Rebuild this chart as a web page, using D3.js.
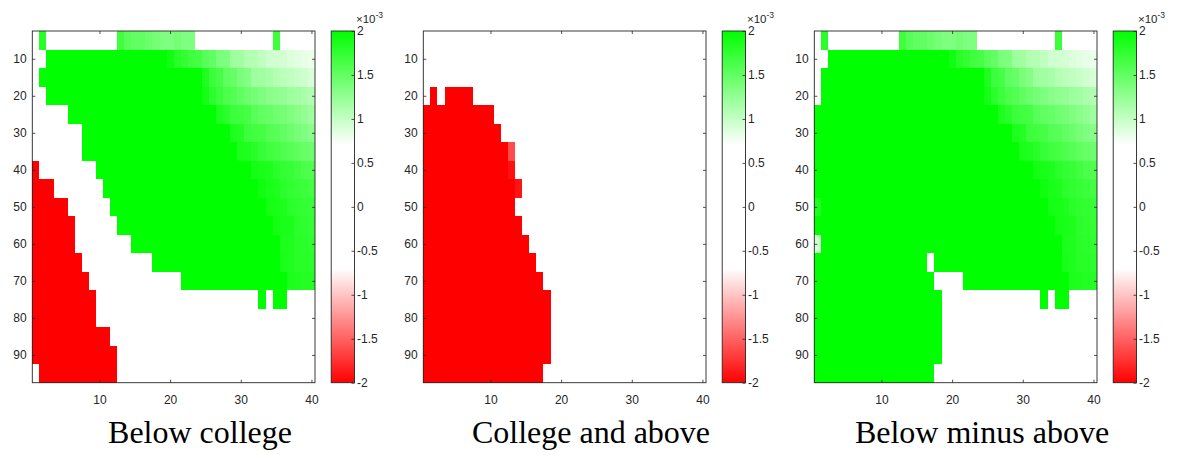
<!DOCTYPE html>
<html><head><meta charset="utf-8">
<script src="https://cdn.jsdelivr.net/npm/d3@7"></script>
<style>body{margin:0;background:#fff}</style>
</head><body><svg id="chart" width="1178" height="455"></svg>
<script>
// ---- data (values in units of 1e-3) ----
const cols = [1,2,3,4,5,6,7,8,9,10,11,12,13,14,15,16,17,18,19,20,21,22,23,24,25,26,27,28,29,30,31,32,33,34,35,36,37,38,39,40];
const yCenters = [5,10,15,20,25,30,35,40,45,50,55,60,65,70,75,80,85,90,95];
const xTicks = [10,20,30,40];
const yTicks = [10,20,30,40,50,60,70,80,90];
const cbTicks = [-2,-1.5,-1,-0.5,0,0.5,1,1.5,2];
const cbTickLabels = ["-2","-1.5","-1","-0.5","0","0.5","1","1.5","2"];
const titles = ["Below college","College and above","Below minus above"];

const belowCollege = [
[0,1.8,0,0,0,0,0,0,0,0, 0,0,1.68,1.55,1.5,1.5,1.45,1.4,1.35,1.35, 1.4,1.35,1.35,0,0,0,0,0,0,0, 0,0,0,0,1.7,0,0,0,0,0],
[0,0,2,2,2,2,2,2,2,2, 2,2,2,2,2,2,2,2,2,1.92, 1.8,1.75,1.68,1.65,1.55,1.5,1.38,1.35,1.2,1.18, 1.1,1.08,1.02,0.95,0.93,0.92,0.88,0.85,0.82,0.8],
[0,2,2,2,2,2,2,2,2,2, 2,2,2,2,2,2,2,2,2,2, 2,2,2,2,1.84,1.7,1.65,1.52,1.48,1.38, 1.33,1.2,1.18,1.15,1.08,1.05,1.02,0.98,0.95,0.9],
[0,0,2,2,2,2,2,2,2,2, 2,2,2,2,2,2,2,2,2,2, 2,2,2,2,1.9,1.78,1.7,1.62,1.58,1.52, 1.45,1.4,1.35,1.3,1.27,1.25,1.2,1.18,1.13,1.1],
[0,0,0,0,0,2,2,2,2,2, 2,2,2,2,2,2,2,2,2,2, 2,2,2,2,2,2,1.85,1.78,1.7,1.68, 1.65,1.55,1.5,1.48,1.43,1.4,1.35,1.3,1.25,1.2],
[0,0,0,0,0,0,0,2,2,2, 2,2,2,2,2,2,2,2,2,2, 2,2,2,2,2,2,2,2,1.85,1.82, 1.7,1.68,1.65,1.58,1.55,1.5,1.45,1.4,1.35,1.3],
[0,0,0,0,0,0,0,2,2,2, 2,2,2,2,2,2,2,2,2,2, 2,2,2,2,2,2,2,2,2,1.86, 1.84,1.8,1.72,1.68,1.65,1.6,1.56,1.52,1.48,1.45],
[-2,0,0,0,0,0,0,0,0,2, 2,2,2,2,2,2,2,2,2,2, 2,2,2,2,2,2,2,2,2,2, 2,1.9,1.88,1.85,1.78,1.75,1.72,1.68,1.62,1.6],
[-2,-2,-2,0,0,0,0,0,0,0, 2,2,2,2,2,2,2,2,2,2, 2,2,2,2,2,2,2,2,2,2, 2,2,1.92,1.88,1.85,1.78,1.75,1.72,1.7,1.67],
[-2,-2,-2,-2,-2,0,0,0,0,0, 0,2,2,2,2,2,2,2,2,2, 2,2,2,2,2,2,2,2,2,2, 2,2,2,1.9,1.88,1.85,1.78,1.76,1.74,1.72],
[-2,-2,-2,-2,-2,-2,0,0,0,0, 0,0,2,2,2,2,2,2,2,2, 2,2,2,2,2,2,2,2,2,2, 2,2,2,2,1.9,1.88,1.86,1.78,1.76,1.74],
[-2,-2,-2,-2,-2,-2,0,0,0,0, 0,0,0,0,2,2,2,2,2,2, 2,2,2,2,2,2,2,2,2,2, 2,2,2,2,2,1.86,1.84,1.8,1.78,1.76],
[-2,-2,-2,-2,-2,-2,-2,0,0,0, 0,0,0,0,0,0,0,2,2,2, 2,2,2,2,2,2,2,2,2,2, 2,2,2,2,2,1.88,1.84,1.8,1.8,1.78],
[-2,-2,-2,-2,-2,-2,-2,-2,0,0, 0,0,0,0,0,0,0,0,0,0, 0,2,2,2,2,2,2,2,2,2, 2,2,2,2,2,2,1.86,1.84,1.82,1.82],
[-2,-2,-2,-2,-2,-2,-2,-2,-2,0, 0,0,0,0,0,0,0,0,0,0, 0,0,0,0,0,0,0,0,0,0, 0,0,2,0,2,2,0,0,0,0],
[-2,-2,-2,-2,-2,-2,-2,-2,-2,0, 0,0,0,0,0,0,0,0,0,0, 0,0,0,0,0,0,0,0,0,0, 0,0,0,0,0,0,0,0,0,0],
[-2,-2,-2,-2,-2,-2,-2,-2,-2,-2, -2,0,0,0,0,0,0,0,0,0, 0,0,0,0,0,0,0,0,0,0, 0,0,0,0,0,0,0,0,0,0],
[-2,-2,-2,-2,-2,-2,-2,-2,-2,-2, -2,-2,0,0,0,0,0,0,0,0, 0,0,0,0,0,0,0,0,0,0, 0,0,0,0,0,0,0,0,0,0],
[0,-2,-2,-2,-2,-2,-2,-2,-2,-2, -2,-2,0,0,0,0,0,0,0,0, 0,0,0,0,0,0,0,0,0,0, 0,0,0,0,0,0,0,0,0,0]
];

const collegeAbove = [
[0,0,0,0,0,0,0,0,0,0, 0,0,0,0,0,0,0,0,0,0, 0,0,0,0,0,0,0,0,0,0, 0,0,0,0,0,0,0,0,0,0],
[0,0,0,0,0,0,0,0,0,0, 0,0,0,0,0,0,0,0,0,0, 0,0,0,0,0,0,0,0,0,0, 0,0,0,0,0,0,0,0,0,0],
[0,0,0,0,0,0,0,0,0,0, 0,0,0,0,0,0,0,0,0,0, 0,0,0,0,0,0,0,0,0,0, 0,0,0,0,0,0,0,0,0,0],
[0,-2,0,-2,-2,-2,-2,0,0,0, 0,0,0,0,0,0,0,0,0,0, 0,0,0,0,0,0,0,0,0,0, 0,0,0,0,0,0,0,0,0,0],
[-2,-2,-2,-2,-2,-2,-2,-2,-2,-2, 0,0,0,0,0,0,0,0,0,0, 0,0,0,0,0,0,0,0,0,0, 0,0,0,0,0,0,0,0,0,0],
[-2,-2,-2,-2,-2,-2,-2,-2,-2,-2, -2,0,0,0,0,0,0,0,0,0, 0,0,0,0,0,0,0,0,0,0, 0,0,0,0,0,0,0,0,0,0],
[-2,-2,-2,-2,-2,-2,-2,-2,-2,-2, -2,-2,-1.62,0,0,0,0,0,0,0, 0,0,0,0,0,0,0,0,0,0, 0,0,0,0,0,0,0,0,0,0],
[-2,-2,-2,-2,-2,-2,-2,-2,-2,-2, -2,-2,-1.92,0,0,0,0,0,0,0, 0,0,0,0,0,0,0,0,0,0, 0,0,0,0,0,0,0,0,0,0],
[-2,-2,-2,-2,-2,-2,-2,-2,-2,-2, -2,-2,-2,-1.9,0,0,0,0,0,0, 0,0,0,0,0,0,0,0,0,0, 0,0,0,0,0,0,0,0,0,0],
[-2,-2,-2,-2,-2,-2,-2,-2,-2,-2, -2,-2,-2,0,0,0,0,0,0,0, 0,0,0,0,0,0,0,0,0,0, 0,0,0,0,0,0,0,0,0,0],
[-2,-2,-2,-2,-2,-2,-2,-2,-2,-2, -2,-2,-2,-2,0,0,0,0,0,0, 0,0,0,0,0,0,0,0,0,0, 0,0,0,0,0,0,0,0,0,0],
[-2,-2,-2,-2,-2,-2,-2,-2,-2,-2, -2,-2,-2,-2,-2,0,0,0,0,0, 0,0,0,0,0,0,0,0,0,0, 0,0,0,0,0,0,0,0,0,0],
[-2,-2,-2,-2,-2,-2,-2,-2,-2,-2, -2,-2,-2,-2,-2,-2,0,0,0,0, 0,0,0,0,0,0,0,0,0,0, 0,0,0,0,0,0,0,0,0,0],
[-2,-2,-2,-2,-2,-2,-2,-2,-2,-2, -2,-2,-2,-2,-2,-2,-2,0,0,0, 0,0,0,0,0,0,0,0,0,0, 0,0,0,0,0,0,0,0,0,0],
[-2,-2,-2,-2,-2,-2,-2,-2,-2,-2, -2,-2,-2,-2,-2,-2,-2,-2,0,0, 0,0,0,0,0,0,0,0,0,0, 0,0,0,0,0,0,0,0,0,0],
[-2,-2,-2,-2,-2,-2,-2,-2,-2,-2, -2,-2,-2,-2,-2,-2,-2,-2,0,0, 0,0,0,0,0,0,0,0,0,0, 0,0,0,0,0,0,0,0,0,0],
[-2,-2,-2,-2,-2,-2,-2,-2,-2,-2, -2,-2,-2,-2,-2,-2,-2,-2,0,0, 0,0,0,0,0,0,0,0,0,0, 0,0,0,0,0,0,0,0,0,0],
[-2,-2,-2,-2,-2,-2,-2,-2,-2,-2, -2,-2,-2,-2,-2,-2,-2,-2,0,0, 0,0,0,0,0,0,0,0,0,0, 0,0,0,0,0,0,0,0,0,0],
[-2,-2,-2,-2,-2,-2,-2,-2,-2,-2, -2,-2,-2,-2,-2,-2,-2,0,0,0, 0,0,0,0,0,0,0,0,0,0, 0,0,0,0,0,0,0,0,0,0]
];

const belowMinusAbove = [
[0,1.8,0,0,0,0,0,0,0,0, 0,0,1.68,1.55,1.5,1.5,1.45,1.4,1.35,1.35, 1.4,1.35,1.35,0,0,0,0,0,0,0, 0,0,0,0,1.7,0,0,0,0,0],
[0,0,2,2,2,2,2,2,2,2, 2,2,2,2,2,2,2,2,2,1.92, 1.8,1.75,1.68,1.65,1.55,1.5,1.38,1.35,1.2,1.18, 1.1,1.08,1.02,0.95,0.93,0.92,0.88,0.85,0.82,0.8],
[0,2,2,2,2,2,2,2,2,2, 2,2,2,2,2,2,2,2,2,2, 2,2,2,2,1.84,1.7,1.65,1.52,1.48,1.38, 1.33,1.2,1.18,1.15,1.08,1.05,1.02,0.98,0.95,0.9],
[0,2,2,2,2,2,2,2,2,2, 2,2,2,2,2,2,2,2,2,2, 2,2,2,2,1.9,1.78,1.7,1.62,1.58,1.52, 1.45,1.4,1.35,1.3,1.27,1.25,1.2,1.18,1.13,1.1],
[2,2,2,2,2,2,2,2,2,2, 2,2,2,2,2,2,2,2,2,2, 2,2,2,2,2,2,1.85,1.78,1.7,1.68, 1.65,1.55,1.5,1.48,1.43,1.4,1.35,1.3,1.25,1.2],
[2,2,2,2,2,2,2,2,2,2, 2,2,2,2,2,2,2,2,2,2, 2,2,2,2,2,2,2,2,1.85,1.82, 1.7,1.68,1.65,1.58,1.55,1.5,1.45,1.4,1.35,1.3],
[2,2,2,2,2,2,2,2,2,2, 2,2,2,2,2,2,2,2,2,2, 2,2,2,2,2,2,2,2,2,1.86, 1.84,1.8,1.72,1.68,1.65,1.6,1.56,1.52,1.48,1.45],
[2,2,2,2,2,2,2,2,2,2, 2,2,2,2,2,2,2,2,2,2, 2,2,2,2,2,2,2,2,2,2, 2,1.9,1.88,1.85,1.78,1.75,1.72,1.68,1.62,1.6],
[2,2,2,2,2,2,2,2,2,2, 2,2,2,2,2,2,2,2,2,2, 2,2,2,2,2,2,2,2,2,2, 2,2,1.92,1.88,1.85,1.78,1.75,1.72,1.7,1.67],
[1.85,2,2,2,2,2,2,2,2,2, 2,2,2,2,2,2,2,2,2,2, 2,2,2,2,2,2,2,2,2,2, 2,2,2,1.9,1.88,1.85,1.78,1.76,1.74,1.72],
[2,2,2,2,2,2,2,2,2,2, 2,2,2,2,2,2,2,2,2,2, 2,2,2,2,2,2,2,2,2,2, 2,2,2,2,1.9,1.88,1.86,1.78,1.76,1.74],
[0.95,2,2,2,2,2,2,2,2,2, 2,2,2,2,2,2,2,2,2,2, 2,2,2,2,2,2,2,2,2,2, 2,2,2,2,2,1.86,1.84,1.8,1.78,1.76],
[2,2,2,2,2,2,2,2,2,2, 2,2,2,2,2,2,0,2,2,2, 2,2,2,2,2,2,2,2,2,2, 2,2,2,2,2,1.88,1.84,1.8,1.8,1.78],
[2,2,2,2,2,2,2,2,2,2, 2,2,2,2,2,2,2,0,0,0, 0,2,2,2,2,2,2,2,2,2, 2,2,2,2,2,2,1.86,1.84,1.82,1.82],
[2,2,2,2,2,2,2,2,2,2, 2,2,2,2,2,2,2,2,0,0, 0,0,0,0,0,0,0,0,0,0, 0,0,2,0,2,2,0,0,0,0],
[2,2,2,2,2,2,2,2,2,2, 2,2,2,2,2,2,2,2,0,0, 0,0,0,0,0,0,0,0,0,0, 0,0,0,0,0,0,0,0,0,0],
[2,2,2,2,2,2,2,2,2,2, 2,2,2,2,2,2,2,2,0,0, 0,0,0,0,0,0,0,0,0,0, 0,0,0,0,0,0,0,0,0,0],
[2,2,2,2,2,2,2,2,2,2, 2,2,2,2,2,2,2,2,0,0, 0,0,0,0,0,0,0,0,0,0, 0,0,0,0,0,0,0,0,0,0],
[2,2,2,2,2,2,2,2,2,2, 2,2,2,2,2,2,2,0,0,0, 0,0,0,0,0,0,0,0,0,0, 0,0,0,0,0,0,0,0,0,0]
];

// ---- drawing ----
const svg = d3.select("#chart");
const color = d3.scaleLinear().domain([-2,-0.7,0.7,2])
  .range(["#ff0000","#ffffff","#ffffff","#00ff00"]).clamp(true);
const panels = [belowCollege, collegeAbove, belowMinusAbove];
const offsets = [0,391,782];
const plotL = 32.3, plotR = 315, plotT = 31, plotB = 382.7;
const cbL = 331.2, cbW = 23.3;
const axisColor = "#262626";
const font = "'Liberation Sans', Arial, Helvetica, sans-serif";

const defs = svg.append("defs");
const grad = defs.append("linearGradient").attr("id","cmap")
  .attr("x1",0).attr("y1",1).attr("x2",0).attr("y2",0);
const cbScale = d3.scaleLinear().domain([-2,2]).range([plotB, plotT]);
[-2,-0.7,0.7,2].forEach(v => grad.append("stop")
  .attr("offset", (v+2)/4).attr("stop-color", color(v)));

const xBand = d3.scaleBand().domain(cols).range([plotL, plotR]);
const yBand = d3.scaleBand().domain(yCenters).range([plotT, plotB]);
const x = d3.scaleLinear().domain([0.5,40.5]).range([plotL, plotR]);
const y = d3.scaleLinear().domain([2.5,97.5]).range([plotT, plotB]);

function styleAxis(g){
  g.select(".domain").remove();
  g.selectAll(".tick line").attr("stroke", axisColor).attr("stroke-width", 0.8);
  g.selectAll(".tick text").attr("fill", axisColor).style("font-family", font).style("font-size","12px");
}

panels.forEach((rows, p) => {
  const g = svg.append("g").attr("transform", `translate(${offsets[p]},0)`);
  const cells = rows.flatMap((row,i) => row.map((v,j) => ({r: yCenters[i], c: cols[j], v})));
  g.append("g").selectAll("rect").data(cells).join("rect")
    .attr("x", d => xBand(d.c)).attr("y", d => yBand(d.r))
    .attr("width", xBand.bandwidth()).attr("height", yBand.bandwidth())
    .attr("fill", d => color(d.v)).attr("shape-rendering","crispEdges");

  g.append("g").attr("transform",`translate(0,${plotB})`)
    .call(d3.axisBottom(x).tickValues(xTicks).tickSizeInner(-3).tickSizeOuter(0).tickPadding(12.3))
    .call(styleAxis);
  g.append("g").attr("transform",`translate(0,${plotT})`)
    .call(d3.axisTop(x).tickValues(xTicks).tickSizeInner(-3).tickSizeOuter(0).tickFormat(""))
    .call(styleAxis);
  g.append("g").attr("transform",`translate(${plotL},0)`)
    .call(d3.axisLeft(y).tickValues(yTicks).tickSizeInner(-3).tickSizeOuter(0).tickPadding(5.6))
    .call(styleAxis);
  g.append("g").attr("transform",`translate(${plotR},0)`)
    .call(d3.axisRight(y).tickValues(yTicks).tickSizeInner(-3).tickSizeOuter(0).tickFormat(""))
    .call(styleAxis);
  g.append("rect").attr("x", plotL).attr("y", plotT)
    .attr("width", plotR-plotL).attr("height", plotB-plotT)
    .attr("fill","none").attr("stroke", axisColor).attr("stroke-width", 0.9);

  // colorbar
  g.append("rect").attr("x", cbL).attr("y", plotT).attr("width", cbW).attr("height", plotB-plotT)
    .attr("fill","url(#cmap)").attr("stroke", axisColor).attr("stroke-width", 0.9);
  g.append("g").attr("transform",`translate(${cbL+cbW},0)`)
    .call(d3.axisRight(cbScale).tickValues(cbTicks).tickSizeInner(-3).tickSizeOuter(0).tickPadding(2.5)
      .tickFormat((d,i) => cbTickLabels[i]))
    .call(styleAxis);
  const ex = g.append("text").attr("x", cbL+cbW+1.5).attr("y", 23)
    .attr("fill", axisColor).style("font-family", font).style("font-size","11.5px");
  ex.append("tspan").text("\u00d710");
  ex.append("tspan").attr("dy", -5).style("font-size","8.5px").text("-3");

  g.append("text").attr("x", 200).attr("y", 443).attr("text-anchor","middle")
    .style("font-family","'Liberation Serif','Times New Roman',serif").style("font-size","32px")
    .attr("fill","#000").text(titles[p]);
});
</script>
</body></html>
